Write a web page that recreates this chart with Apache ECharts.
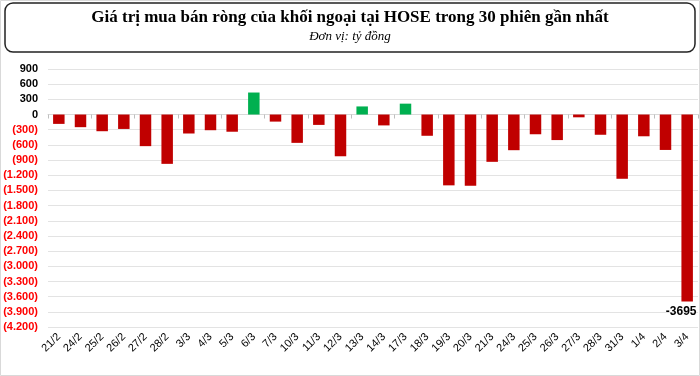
<!DOCTYPE html>
<html><head><meta charset="utf-8">
<script src="https://cdn.jsdelivr.net/npm/echarts@6/dist/echarts.min.js"></script>
<style>html,body{margin:0;padding:0;background:#fff}#c{width:700px;height:376px}</style>
</head><body><div id="c"></div>
<script>
const categories = ['21/2','24/2','25/2','26/2','27/2','28/2','3/3','4/3','5/3','6/3','7/3','10/3','11/3','12/3','13/3','14/3','17/3','18/3','19/3','20/3','21/3','24/3','25/3','26/3','27/3','28/3','31/3','1/4','2/4','3/4'];
const values = [-185,-250,-330,-285,-625,-975,-375,-310,-340,435,-140,-560,-205,-825,160,-215,215,-420,-1400,-1410,-935,-705,-390,-505,-55,-400,-1270,-430,-700,-3695];
const yTicks = {min: -4200, max: 900, interval: 300};
const titleText = 'Giá trị mua bán ròng của khối ngoại tại HOSE trong 30 phiên gần nhất';
const subtitleText = 'Đơn vị: tỷ đồng';

function fmt(v){
  const a = Math.abs(v);
  const s = a.toString().replace(/\B(?=(\d{3})+(?!\d))/g, '.');
  return v < 0 ? '(' + s + ')' : s;
}

const chart = echarts.init(document.getElementById('c'));
chart.setOption({
  animation: false,
  graphic: [
    {type:'rect', shape:{x:0.5,y:0.5,width:699,height:375}, style:{fill:'none', stroke:'#d9d9d9', lineWidth:1}, silent:true, z:-1},
    {type:'rect', shape:{x:5,y:3,width:690,height:49,r:8}, style:{fill:'#fff', stroke:'#222', lineWidth:1.5}},
    {type:'text', x:350, y:18, style:{text:titleText, font:'bold 17px "Liberation Serif"', fill:'#000', align:'center', verticalAlign:'middle'}},
    {type:'text', x:350, y:37, style:{text:subtitleText, font:'italic 13px "Liberation Serif"', fill:'#000', align:'center', verticalAlign:'middle'}}
  ],
  grid: {left:48, right:2, top:69, bottom:49, containLabel:false},
  xAxis: [
    {type:'category', data:categories, position:'bottom',
     axisLine:{onZero:true, lineStyle:{color:'#d9d9d9'}}, axisTick:{show:true, length:4, lineStyle:{color:'#bfbfbf'}},
     axisLabel:{show:false}, splitLine:{show:false}},
    {type:'category', data:categories, position:'bottom', axisLine:{show:false, onZero:false}, axisTick:{show:false},
     axisLabel:{rotate:45, fontSize:11, fontFamily:'Arial, "Liberation Sans"', color:'#000', margin:8, interval:0}}
  ],
  yAxis: {type:'value', min:yTicks.min, max:yTicks.max, interval:yTicks.interval,
    axisLine:{show:false}, axisTick:{show:false},
    splitLine:{lineStyle:{color:'#e3e3e3', width:1}},
    axisLabel:{fontSize:11, fontWeight:'bold', fontFamily:'Arial, "Liberation Sans"', margin:10,
      formatter: v => fmt(v),
      color: v => (Number(v) < 0 ? '#ff0000' : '#000')}
  },
  series: [{
    type:'bar', xAxisIndex:0, data: values.map((v,i)=>({value:v,
      itemStyle:{color: v>=0 ? '#00b050' : '#c00000'},
      label: i===values.length-1 ? {show:true, position:'bottom', formatter:'{c}', fontWeight:'bold', fontSize:12, color:'#000', fontFamily:'Arial, "Liberation Sans"', distance:4, offset:[-6,0]} : {show:false}
    })),
    barWidth:'53%'
  }]
});
</script></body></html>
